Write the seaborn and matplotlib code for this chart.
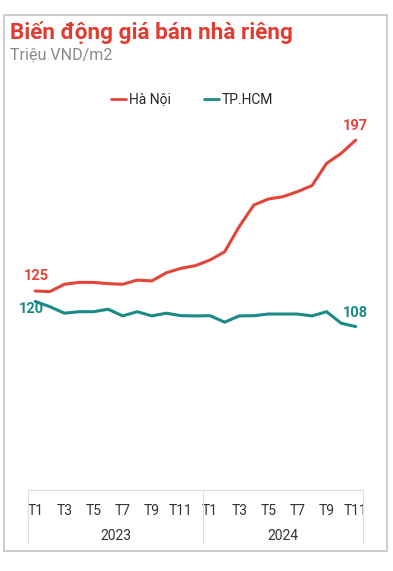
import matplotlib
matplotlib.use("Agg")
import matplotlib.pyplot as plt
import seaborn as sns
import pandas as pd
from matplotlib.patches import Rectangle
from matplotlib.lines import Line2D

months = [f"T{m}" for m in range(1, 13)] + [f"T{m}" for m in range(1, 12)]
years = ["2023"] * 12 + ["2024"] * 11
hanoi = [125, 124.7, 128.2, 129.1, 129.1, 128.5, 128.2, 130.2, 129.8, 133.7, 135.8, 137.1,
         139.8, 143.7, 155.7, 166.0, 168.9, 170.0, 172.4, 175.3, 185.9, 190.7, 197]
hcm = [120, 117.5, 114.4, 115.1, 115.1, 116.3, 113.1, 115.1, 113.1, 114.4, 113.2, 113.1,
       113.2, 110.1, 113.1, 113.2, 114.0, 114.0, 114.0, 113.1, 115.1, 109.6, 108]
series_names = ["Hà Nội", "TP.HCM"]
year_labels = ["2023", "2024"]

RED = "#e2453a"
TEAL = "#1b8a87"
TITLE_RED = "#e23b30"

sns.set_theme(style="white")
plt.rcParams["font.family"] = ["Roboto", "DejaVu Sans"]

n = len(months)
df = pd.DataFrame({
    "idx": list(range(n)) * 2,
    "value": hanoi + hcm,
    "city": [series_names[0]] * n + [series_names[1]] * n,
})

fig = plt.figure(figsize=(3.93, 5.71), dpi=100)
ax = fig.add_axes([28 / 393, 1 - 490 / 571, 335 / 393, 375 / 571])

sns.lineplot(data=df, x="idx", y="value", hue="city", palette=[RED, TEAL],
             linewidth=2.2, ax=ax, legend=False, sort=False)
for l in ax.get_lines():
    l.set_solid_joinstyle("round")
    l.set_solid_capstyle("round")

ax.set_xlim(-0.5, n - 0.5)
ax.set_ylim(30, 209)
ax.set_xlabel("")
ax.set_ylabel("")
ax.set_yticks([])
for s in ["top", "left", "right"]:
    ax.spines[s].set_visible(False)
ax.spines["bottom"].set_color("#dcdcdc")
ax.spines["bottom"].set_linewidth(0.8)

tick_idx = [i for i in range(n) if months[i] in ("T1", "T3", "T5", "T7", "T9", "T11")]
ax.set_xticks(tick_idx)
ax.set_xticklabels([months[i] for i in tick_idx], fontsize=10, color="#333333")
ax.tick_params(axis="x", length=0, pad=10)

# year group labels and separators
xt = ax.get_xaxis_transform()
bounds = [-0.5, 11.5, n - 0.5]
for b in bounds:
    ax.plot([b, b], [0, -53 / 375], transform=xt, color="#dcdcdc", lw=0.8, clip_on=False)
for k, yl in enumerate(year_labels):
    idxs = [i for i in range(n) if years[i] == yl]
    cx = (idxs[0] + idxs[-1]) / 2
    ax.text(cx, -46 / 375, yl, transform=xt, ha="center", va="center",
            fontsize=10, color="#333333")

# data labels
ax.annotate(f"{hanoi[0]:.0f}", (0, hanoi[0]), xytext=(1, 11), textcoords="offset points",
            ha="center", va="center", fontsize=10.5, fontweight="bold", color=RED)
ax.annotate(f"{hanoi[-1]:.0f}", (n - 1, hanoi[-1]), xytext=(0, 10.5), textcoords="offset points",
            ha="center", va="center", fontsize=10.5, fontweight="bold", color=RED)
ax.annotate(f"{hcm[0]:.0f}", (0, hcm[0]), xytext=(-3, -5.5), textcoords="offset points",
            ha="center", va="center", fontsize=10.5, fontweight="bold", color=TEAL)
ax.annotate(f"{hcm[-1]:.0f}", (n - 1, hcm[-1]), xytext=(0, 10), textcoords="offset points",
            ha="center", va="center", fontsize=10.5, fontweight="bold", color=TEAL)

# legend
handles = [Line2D([0], [0], color=RED, lw=2), Line2D([0], [0], color=TEAL, lw=2)]
fig.legend(handles, series_names, loc="center", bbox_to_anchor=(192 / 393, 1 - 100 / 571),
           ncol=2, frameon=False, fontsize=10, handlelength=1.1, handletextpad=0.2,
           columnspacing=2.4)

# title / subtitle
fig.text(10 / 393, 1 - 33 / 571, "Biến động giá bán nhà riêng", fontsize=16.2,
         fontweight="bold", color=TITLE_RED, ha="left", va="center")
fig.text(10 / 393, 1 - 55 / 571, "Triệu VND/m2", fontsize=11.5, color="#8a8a8a",
         ha="left", va="center")

# border
fig.patches.append(Rectangle((3.5 / 393, 1 - 551 / 571), 383 / 393, 536 / 571,
                             transform=fig.transFigure, fill=False,
                             edgecolor="#c4c4c4", lw=1.2))

fig.savefig("out.png", dpi=100)
